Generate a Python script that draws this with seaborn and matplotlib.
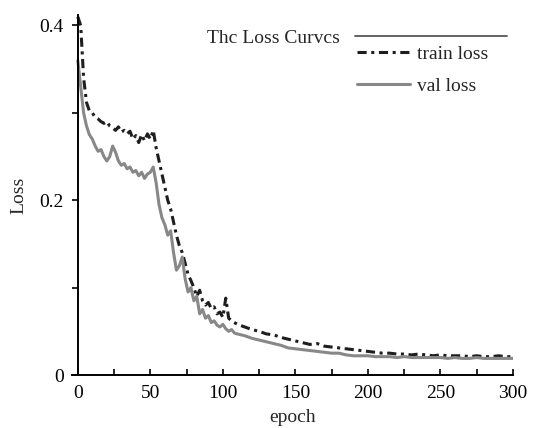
import numpy as np
import pandas as pd
import matplotlib
matplotlib.use("Agg")
import matplotlib.pyplot as plt
import seaborn as sns
from matplotlib.ticker import MultipleLocator, FixedLocator

# ---------------- data ----------------
epochs = [0, 2, 4, 6, 8, 10, 12, 14, 16, 18, 20, 22, 24, 26, 28, 30, 32, 34, 36, 38,
          40, 42, 44, 46, 48, 50, 52, 54, 56, 58, 60, 62, 64, 66, 68, 70, 72, 74, 76, 78,
          80, 82, 84, 86, 88, 90, 92, 94, 96, 98, 100, 102, 104, 106, 108, 110,
          115, 120, 125, 130, 135, 140, 145, 150, 155, 160, 165, 170, 175, 180, 185, 190,
          195, 200, 205, 210, 215, 220, 225, 230, 235, 240, 245, 250, 255, 260, 265, 270,
          275, 280, 285, 290, 295, 300]

train_loss = [0.410, 0.400, 0.340, 0.312, 0.302, 0.300, 0.295, 0.293, 0.290, 0.288,
              0.290, 0.285, 0.283, 0.280, 0.284, 0.278, 0.280, 0.276, 0.279, 0.270,
              0.274, 0.266, 0.275, 0.268, 0.276, 0.270, 0.280, 0.260, 0.245, 0.230,
              0.215, 0.200, 0.190, 0.175, 0.160, 0.148, 0.140, 0.128, 0.115, 0.108,
              0.100, 0.090, 0.097, 0.085, 0.080, 0.083, 0.076, 0.078, 0.070, 0.072,
              0.066, 0.088, 0.065, 0.062, 0.060, 0.058,
              0.055, 0.052, 0.050, 0.047, 0.046, 0.043, 0.041, 0.039, 0.037, 0.035,
              0.036, 0.033, 0.032, 0.031, 0.030, 0.029, 0.028, 0.027, 0.026, 0.025,
              0.025, 0.024, 0.024, 0.023, 0.024, 0.023, 0.022, 0.023, 0.022, 0.022,
              0.022, 0.021, 0.022, 0.021, 0.021, 0.022, 0.021, 0.021]

val_loss = [0.360, 0.330, 0.300, 0.285, 0.275, 0.270, 0.262, 0.256, 0.258, 0.250,
            0.245, 0.250, 0.262, 0.255, 0.245, 0.240, 0.242, 0.236, 0.238, 0.232,
            0.234, 0.228, 0.232, 0.225, 0.230, 0.232, 0.238, 0.220, 0.195, 0.180,
            0.172, 0.160, 0.165, 0.140, 0.120, 0.125, 0.135, 0.110, 0.095, 0.100,
            0.085, 0.090, 0.070, 0.075, 0.065, 0.068, 0.060, 0.062, 0.057, 0.055,
            0.058, 0.053, 0.050, 0.052, 0.048, 0.047,
            0.045, 0.042, 0.040, 0.038, 0.036, 0.034, 0.031, 0.030, 0.029, 0.028,
            0.027, 0.026, 0.025, 0.025, 0.023, 0.022, 0.022, 0.022, 0.021, 0.021,
            0.021, 0.020, 0.021, 0.020, 0.020, 0.020, 0.020, 0.020, 0.019, 0.020,
            0.019, 0.019, 0.020, 0.019, 0.019, 0.019, 0.019, 0.019]

x_ticks = [0, 50, 100, 150, 200, 250, 300]
y_ticks = [0, 0.2, 0.4]
y_tick_labels = ["0", "0.2", "0.4"]
title_text = "Thc Loss Curvcs"
series_names = ["train loss", "val loss"]

df = pd.DataFrame({"epoch": epochs, "train": train_loss, "val": val_loss})

# ---------------- style ----------------
sns.set_theme(style="ticks")
plt.rcParams["font.family"] = ["Liberation Serif", "DejaVu Serif"]
plt.rcParams["font.size"] = 14

fig = plt.figure(figsize=(5.36, 4.28), dpi=100)
ax = fig.add_axes([72 / 536, 1 - 375 / 428, (513 - 72) / 536, (375 - 15) / 428])

sns.lineplot(data=df, x="epoch", y="train", ax=ax, color="#1e1e1e", lw=2.2,
             linestyle=(0, (3.0, 1.5, 1.0, 1.5)), label=series_names[0], legend=False)
sns.lineplot(data=df, x="epoch", y="val", ax=ax, color="#888888", lw=2.2,
             linestyle="-", label=series_names[1], legend=False)

ax.set_xlim(-4, 300)
ax.set_ylim(0, 0.412)
ax.spines["left"].set_position(("data", 0))
ax.spines["top"].set_visible(False)
ax.spines["right"].set_visible(False)
for s in ("left", "bottom"):
    ax.spines[s].set_color("black")
    ax.spines[s].set_linewidth(1.4)

ax.set_xticks(x_ticks)
ax.xaxis.set_minor_locator(FixedLocator([25, 75, 125, 175, 225, 275]))
ax.set_yticks(y_ticks)
ax.set_yticklabels(y_tick_labels)
ax.yaxis.set_minor_locator(FixedLocator([0.1, 0.3]))
ax.tick_params(axis="x", which="both", direction="in", length=4, width=1.2,
               labelsize=14, pad=7, colors="black")
ax.tick_params(axis="y", which="both", direction="out", length=4, width=1.2,
               labelsize=14, pad=6, colors="black")

ax.set_xlabel("epoch", fontsize=14, labelpad=5)
ax.set_ylabel("Loss", fontsize=14, labelpad=9)

# legends
title_handle = plt.Line2D([], [], color="#555555", lw=1.3)
leg1 = fig.legend([title_handle], [title_text], loc="upper right",
                  bbox_to_anchor=(507 / 536, 1 - 29 / 428), bbox_transform=fig.transFigure,
                  frameon=False, markerfirst=False, handlelength=7.8, handletextpad=0.8,
                  borderpad=0, borderaxespad=0, fontsize=14)
h, l = ax.get_legend_handles_labels()
leg2 = fig.legend(h, l, loc="upper left",
                  bbox_to_anchor=(357 / 536, 1 - 45 / 428), bbox_transform=fig.transFigure,
                  frameon=False, handlelength=2.7, handletextpad=0.4, labelspacing=0.75,
                  borderpad=0, borderaxespad=0, fontsize=14)

fig.savefig("out.png", dpi=100)
